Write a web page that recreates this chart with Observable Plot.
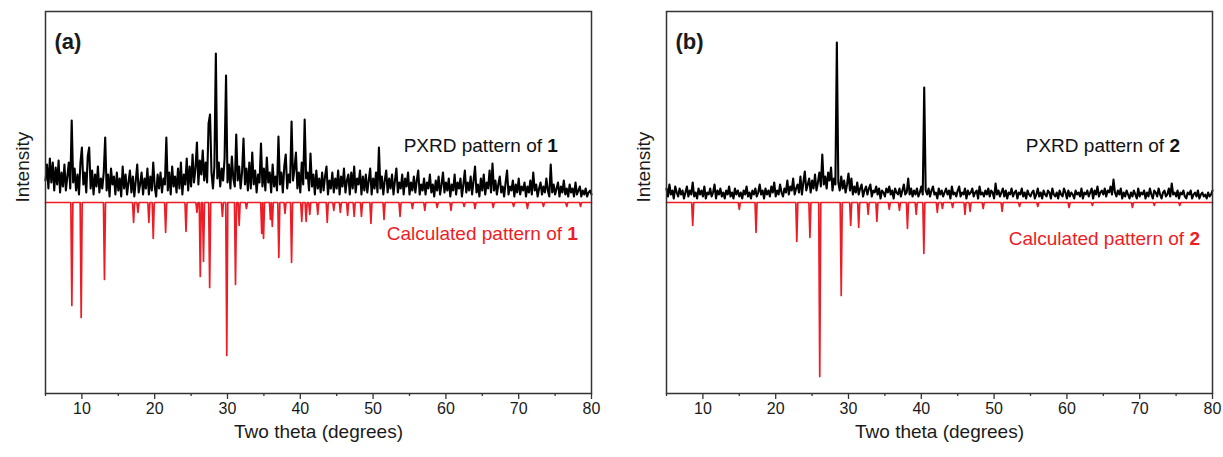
<!DOCTYPE html>
<html><head><meta charset="utf-8">
<script src="https://cdn.jsdelivr.net/npm/d3@7"></script>
<script src="https://cdn.jsdelivr.net/npm/@observablehq/plot@0.6"></script>
<style>
body{margin:0;background:#fff;font-family:"Liberation Sans",Arial,sans-serif;}
#wrap{position:relative;width:1223px;height:457px;overflow:hidden;}
#wrap svg{position:absolute;top:0;}
</style></head><body><div id="wrap"></div>
<script>
// two-theta grid of the measured patterns: start and step (degrees)
const xStart = 5, xStep = 0.2;

// measured PXRD pattern of 1 (intensity above the calculated baseline)
const expA = [
22,38,14,44,20,40,12,35,18,42,
10,30,16,38,12,26,40,14,82,20,
34,12,28,8,40,55,18,30,10,46,
55,14,32,8,28,16,36,10,24,14,
30,65,12,28,6,34,18,26,8,30,
12,24,6,36,14,28,8,20,32,10,
26,6,22,38,10,18,30,8,24,14,
34,8,26,12,40,16,6,28,14,30,
10,24,18,65,12,30,8,36,16,26,
10,34,14,40,8,28,18,44,12,36,
16,48,20,34,60,18,42,28,52,22,
40,20,79,88,30,14,36,149,24,40,
16,34,22,44,127,20,38,14,46,24,
16,68,22,36,14,30,64,18,34,12,
40,14,50,18,32,10,28,20,59,16,
34,12,45,20,30,10,38,16,26,12,
66,18,30,10,36,48,14,28,20,81,
22,34,50,14,30,10,40,18,83,24,
30,12,49,16,28,8,32,14,24,10,
30,12,26,36,8,22,14,30,10,24,
14,32,8,26,16,34,10,22,28,8,
30,14,36,10,24,18,32,8,26,12,
28,10,22,34,8,24,14,30,10,55,
14,26,8,22,32,10,24,14,28,8,
22,34,10,20,14,28,8,24,16,30,
8,20,12,26,10,22,32,8,18,12,
24,8,20,14,28,10,18,6,22,12,
26,8,18,30,10,20,12,24,6,18,
12,28,8,20,14,24,6,18,32,10,
20,12,26,8,22,36,10,18,6,24,
12,28,8,20,14,32,10,39,12,22,
8,18,26,10,16,6,20,32,8,16,
12,22,6,18,10,24,8,16,12,20,
6,16,10,22,8,30,12,18,6,14,
20,8,16,10,24,12,6,38,10,18,
8,14,20,6,16,10,22,8,14,6,
18,10,14,6,20,8,12,16,6,12,
8,14,6,10,12,8
];

// measured PXRD pattern of 2
const expB = [
14,6,18,8,12,4,16,10,6,14,
8,12,4,10,16,6,12,8,20,6,
10,4,14,8,12,6,16,4,10,8,
14,6,10,18,4,12,8,14,6,10,
4,12,8,16,6,10,4,14,8,12,
6,10,4,12,8,16,6,10,4,12,
8,14,6,10,18,8,12,4,14,8,
12,6,16,10,20,6,12,8,18,10,
6,14,10,22,8,16,12,24,8,14,
18,10,26,8,20,31,12,18,24,10,
22,14,28,12,20,30,16,48,18,26,
14,30,22,35,12,24,18,160,20,12,
26,14,22,10,18,29,12,24,8,16,
10,20,8,14,18,6,12,16,8,14,
18,6,12,10,16,8,14,4,12,10,
6,14,10,16,8,12,4,14,10,8,
14,6,12,18,8,10,24,8,14,6,
12,8,14,6,10,16,8,115,12,8,
14,6,12,16,8,10,4,14,8,12,
6,10,14,8,12,4,16,8,10,6,
12,16,6,10,8,14,4,12,8,10,
14,6,10,12,4,16,8,10,6,12,
8,14,6,12,10,4,19,8,12,6,
10,14,6,12,4,10,8,14,6,10,
12,4,10,8,14,6,10,4,12,8,
6,10,12,4,8,14,6,10,4,12,
8,6,12,10,4,14,8,6,10,4,
12,8,6,14,10,4,12,6,10,8,
4,12,8,10,6,14,4,10,8,12,
6,10,14,4,12,8,16,6,10,12,
8,14,6,12,10,16,8,23,10,6,
12,8,14,4,10,6,12,8,4,10,
6,12,8,4,14,6,10,8,12,4,
10,6,14,8,4,12,10,6,14,8,
4,10,12,6,8,14,6,19,8,10,
6,12,4,10,8,12,6,4,10,8,
12,4,8,10,6,12,4,8,10,6,
8,4,10,6,8,12
];

// calculated pattern of 1: reflection positions (deg) and intensities (drawn downward)
const calcAPos = [8.62,9.9,13.1,17.1,17.7,19.2,19.8,21.5,24.3,25.8,26.26,26.7,27.55,29.3,29.9,31.1,31.6,32.6,34.7,34.95,35.9,36.15,37.05,37.9,38.8,40.2,40.8,41.3,42.4,43.7,44.6,45.5,46.5,47.4,48.4,49.7,51.5,53.7,55.4,57.1,58.8,60.7,62.5,64.0,66.5,69.3,71.2,73.4,76.6,78.5];
const calcAInt = [103,115,77,20,10,20,36,30,29,10,74,59,85,14,153,82,23,6,31,36,17,24,55,11,60,19,19,12,12,20,8,10,13,14,14,21,17,14,6,8,5,8,4,6,5,4,6,4,4,4];

// calculated pattern of 2
const calcBPos = [8.6,15.0,17.3,22.9,24.7,26.05,29.0,30.3,31.4,32.7,33.9,35.6,37.0,38.1,39.3,40.35,42.2,42.9,44.3,46.0,46.7,48.5,51.1,53.5,56.0,60.3,63.5,69.0,72.0,75.5];
const calcBInt = [23,7,30,39,35,174,93,23,25,12,19,7,8,26,12,51,10,6,5,12,9,6,9,4,4,5,3,5,3,3];

// axis ticks
const xMajorTicks = [10,20,30,40,50,60,70,80];
const xMinorTicks = [5,15,25,35,45,55,65,75];

const xTitle = "Two theta (degrees)";
const yTitle = "Intensity";

const FONT = '"Liberation Sans", Arial, sans-serif';
const panels = [
  {tag:"(a)", id:"1", exp:expA, pos:calcAPos, inten:calcAInt, left:0, width:612, ml:45, mr:21,
   expLab:[75.45, 50], calcLab:[78.2, -38]},
  {tag:"(b)", id:"2", exp:expB, pos:calcBPos, inten:calcBInt, left:612, width:611, ml:54, mr:11,
   expLab:[75.6, 50], calcLab:[78.35, -43]}
];

const wrap = document.getElementById("wrap");
for (const p of panels) {
  const expData = p.exp.map((v, i) => ({x: xStart + xStep * i, y: v}));
  const calc = [{x: 5, y: 0}];
  p.pos.forEach((c, i) => { calc.push({x: c - 0.14, y: 0}, {x: c, y: -p.inten[i]}, {x: c + 0.14, y: 0}); });
  calc.push({x: 80, y: 0});

  const plot = Plot.plot({
    width: p.width, height: 457,
    marginLeft: p.ml, marginRight: p.mr, marginTop: 11, marginBottom: 64,
    style: {fontFamily: FONT, fontSize: "16px", color: "#1a1a1a", background: "transparent", overflow: "visible"},
    x: {domain: [5, 80], label: null},
    y: {domain: [-191, 191], axis: null, label: null},
    marks: [
      Plot.line(calc, {x: "x", y: "y", stroke: "#ee1c25", strokeWidth: 1.7}),
      Plot.line(expData, {x: "x", y: "y", stroke: "#000", strokeWidth: 2.1}),
      Plot.axisX({ticks: xMinorTicks, tickSize: 3, tickFormat: () => "", label: null, stroke: "#333", strokeWidth: 1.3}),
      Plot.axisX({ticks: xMajorTicks, tickSize: 6, tickPadding: 3, label: null, stroke: "#333", strokeWidth: 1.3, fontSize: 16}),
      Plot.frame({stroke: "#333", strokeWidth: 1.5}),
      Plot.text([xTitle], {frameAnchor: "bottom", dy: 44, fontSize: 19}),
      Plot.text([yTitle], {frameAnchor: "left", dx: -22.5, rotate: -90, fontSize: 19}),
      Plot.text([p.tag], {frameAnchor: "top-left", dx: 9, dy: 22, fontSize: 22, fontWeight: "bold", textAnchor: "start"})
    ]
  });
  plot.style.left = p.left + "px";
  const sx = plot.scale("x"), sy = plot.scale("y");
  const svg = d3.select(plot);
  const addLabel = (pt, main, color) => {
    const t = svg.append("text")
      .attr("x", sx.apply(pt[0])).attr("y", sy.apply(pt[1]))
      .attr("text-anchor", "end").attr("font-size", 19).attr("font-family", FONT).attr("fill", color);
    t.append("tspan").text(main);
    t.append("tspan").attr("font-weight", "bold").text(p.id);
  };
  addLabel(p.expLab, "PXRD pattern of ", "#111");
  addLabel(p.calcLab, "Calculated pattern of ", "#ee1c25");
  wrap.appendChild(plot);
}
</script></body></html>
